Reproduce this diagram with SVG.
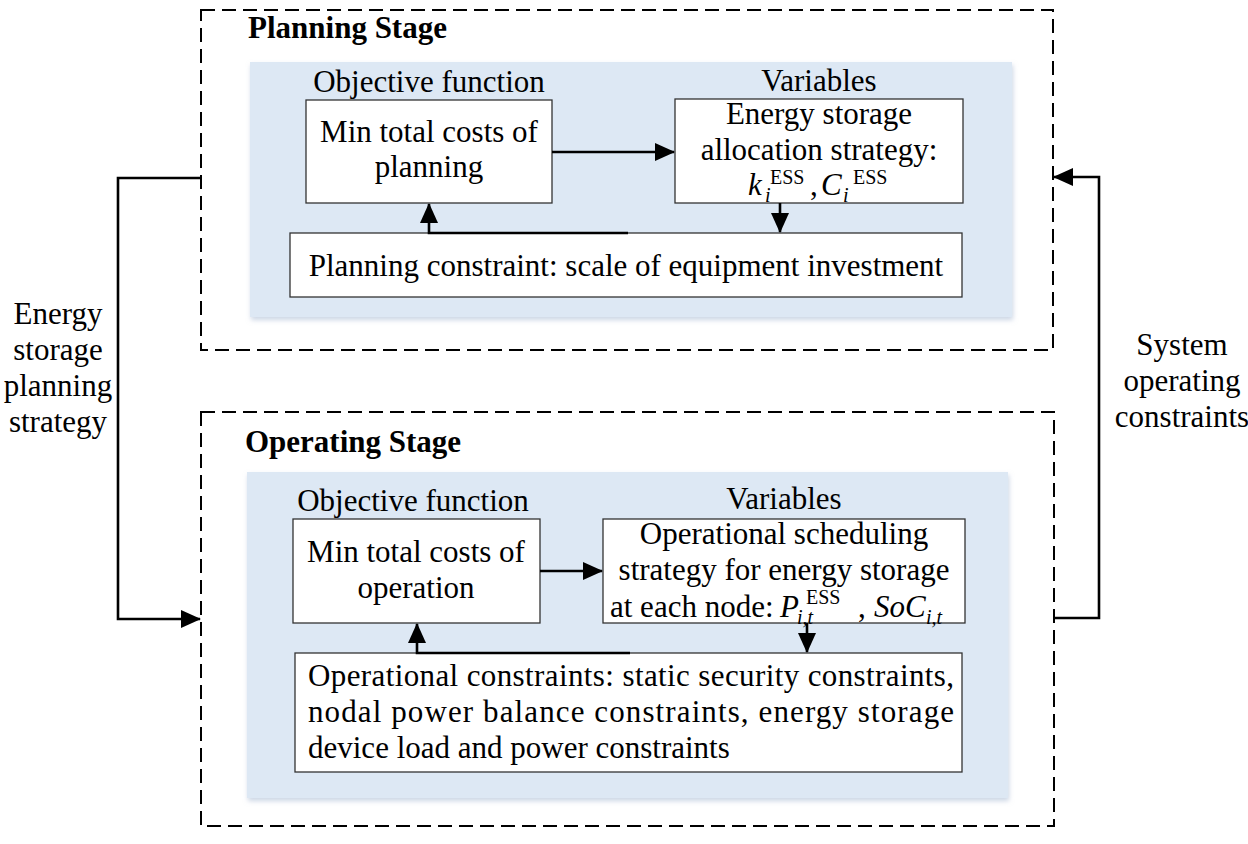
<svg xmlns="http://www.w3.org/2000/svg" width="1248" height="844" viewBox="0 0 1248 844">
<style>
.t{font-family:"Liberation Serif","Times New Roman",serif;font-size:31px;fill:#000}
.b{font-weight:bold}
.i{font-style:italic}
.s{font-size:20px}
.dash{fill:none;stroke:#000;stroke-width:2;stroke-dasharray:14 7}
.panel{fill:#dde8f4}
.box{fill:#fff;stroke:#333;stroke-width:1.3}
.c{fill:none;stroke:#000;stroke-width:2.6}
</style>
<defs>
<marker id="ah" markerUnits="userSpaceOnUse" markerWidth="20" markerHeight="18" refX="19" refY="9" orient="auto"><path d="M0,0 L20,9 L0,18 z" fill="#000"/></marker>
<filter id="sh" x="-5%" y="-5%" width="110%" height="115%"><feDropShadow dx="1" dy="3" stdDeviation="2.5" flood-color="#a9bbd3" flood-opacity="0.6"/></filter>
</defs>
<rect width="1248" height="844" fill="#fff"/>

<g id="planning-stage">
<rect class="dash" x="201" y="10" width="852" height="340"/>
<text class="t b" x="248" y="38">Planning Stage</text>
<rect class="panel" x="250" y="62" width="762" height="255" filter="url(#sh)"/>
</g>

<g id="operating-stage">
<rect class="dash" x="201" y="412" width="853" height="414"/>
<text class="t b" x="245" y="452">Operating Stage</text>
<rect class="panel" x="247" y="472" width="761" height="326" filter="url(#sh)"/>
</g>

<g id="p-objective">
<text class="t" x="429" y="92" text-anchor="middle">Objective function</text>
<rect class="box" x="306" y="100" width="246" height="103"/>
<text class="t" x="429" y="142" text-anchor="middle">Min total costs of</text>
<text class="t" x="429" y="177" text-anchor="middle">planning</text>
</g>

<g id="p-variables">
<text class="t" x="819" y="91" text-anchor="middle">Variables</text>
<rect class="box" x="675" y="99" width="288" height="104"/>
<text class="t" x="819" y="124" text-anchor="middle">Energy storage</text>
<text class="t" x="819" y="160" text-anchor="middle">allocation strategy:</text>
<text class="t" y="195"><tspan class="i" x="748">k</tspan><tspan class="i s" x="765" y="202">i</tspan><tspan class="s" x="770" y="184">ESS</tspan><tspan x="810" y="195">,</tspan><tspan class="i" x="821" y="195">C</tspan><tspan class="i s" x="843" y="202">i</tspan><tspan class="s" x="853" y="184">ESS</tspan></text>
</g>

<g id="p-constraint">
<rect class="box" x="290" y="233" width="672" height="64"/>
<text class="t" x="626" y="276" text-anchor="middle">Planning constraint: scale of equipment investment</text>
</g>

<g id="o-objective">
<text class="t" x="413" y="511" text-anchor="middle">Objective function</text>
<rect class="box" x="293" y="519" width="247" height="104"/>
<text class="t" x="416" y="562" text-anchor="middle">Min total costs of</text>
<text class="t" x="416" y="598" text-anchor="middle">operation</text>
</g>

<g id="o-variables">
<text class="t" x="784" y="509" text-anchor="middle">Variables</text>
<rect class="box" x="603" y="519" width="362" height="104"/>
<text class="t" x="784" y="544" text-anchor="middle">Operational scheduling</text>
<text class="t" x="784" y="580" text-anchor="middle">strategy for energy storage</text>
<text class="t" y="617"><tspan x="610">at each node:</tspan><tspan class="i" x="780">P</tspan><tspan class="i s" x="797" y="624">i,t</tspan><tspan class="s" x="806" y="604">ESS</tspan><tspan x="858" y="617">,</tspan><tspan class="i" x="874" y="617">SoC</tspan><tspan class="i s" x="926" y="624">i,t</tspan></text>
</g>

<g id="o-constraint">
<rect class="box" x="295" y="653" width="667" height="119"/>
<text class="t" x="308" y="686" textLength="646" lengthAdjust="spacing">Operational constraints: static security constraints,</text>
<text class="t" x="308" y="722" textLength="646" lengthAdjust="spacing">nodal power balance constraints, energy storage</text>
<text class="t" x="308" y="758">device load and power constraints</text>
</g>

<g id="side-labels">
<text class="t" text-anchor="middle"><tspan x="58" y="324">Energy</tspan><tspan x="58" y="360">storage</tspan><tspan x="58" y="396">planning</tspan><tspan x="58" y="432">strategy</tspan></text>
<text class="t" text-anchor="middle"><tspan x="1182" y="355">System</tspan><tspan x="1182" y="391">operating</tspan><tspan x="1182" y="427">constraints</tspan></text>
</g>

<g id="connectors">
<path class="c" d="M552,152 H674" marker-end="url(#ah)"/>
<path class="c" d="M780,203 V232" marker-end="url(#ah)"/>
<path class="c" d="M628,233 H429 V204" marker-end="url(#ah)"/>
<path class="c" d="M540,571 H602" marker-end="url(#ah)"/>
<path class="c" d="M807,623 V652" marker-end="url(#ah)"/>
<path class="c" d="M630,653 H417 V624" marker-end="url(#ah)"/>
<path class="c" d="M201,178 H118 V619 H200" marker-end="url(#ah)"/>
<path class="c" d="M1054,618 H1099 V177 H1054" marker-end="url(#ah)"/>
</g>
</svg>
